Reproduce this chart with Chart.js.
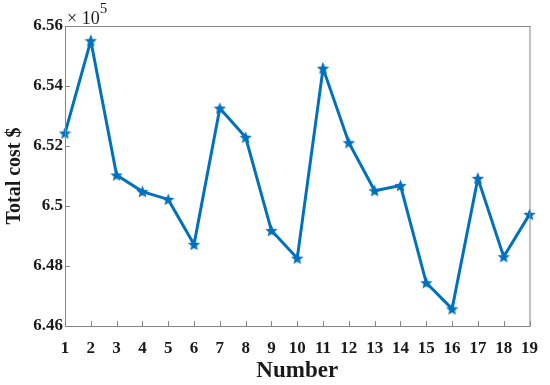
<!DOCTYPE html>
<html>
<head>
<meta charset="utf-8">
<script src="https://cdn.jsdelivr.net/npm/chart.js@4"></script>
<style>
  html, body { margin: 0; padding: 0; background: #fff; }
  #wrap { width: 550px; height: 385px; }
</style>
</head>
<body>
<div id="wrap"><canvas id="costChart" width="550" height="385"></canvas></div>
<script>
// run number on x, total cost on y (dollars)
const runs = [1, 2, 3, 4, 5, 6, 7, 8, 9, 10, 11, 12, 13, 14, 15, 16, 17, 18, 19];
const totalCost = [
  652430, 655510, 651030, 650480, 650220, 648720, 653260, 652290, 649180,
  648260, 654590, 652110, 650510, 650680, 647440, 646570, 650920, 648310, 649720,
];
const yTicks = [646000, 648000, 650000, 652000, 654000, 656000];

const lineBlue = "#0072BD";
const axisGray = "#858585";
const serif = "'Liberation Serif', 'Times New Roman', serif";

// filled five point star, like matlab's 'p' marker
function makeStar(size, color) {
  const c = document.createElement("canvas");
  c.width = size;
  c.height = size;
  const g = c.getContext("2d");
  const cx = size / 2, cy = size / 2 + 0.5;
  const outer = size / 2, inner = outer * 0.45;
  g.beginPath();
  for (let i = 0; i < 10; i++) {
    const r = i % 2 === 0 ? outer : inner;
    const a = -Math.PI / 2 + (i * Math.PI) / 5;
    const px = cx + r * Math.cos(a), py = cy + r * Math.sin(a);
    if (i === 0) g.moveTo(px, py);
    else g.lineTo(px, py);
  }
  g.closePath();
  g.fillStyle = color;
  g.fill();
  return c;
}
const starImg = makeStar(13, lineBlue);

// box round the axes, inward ticks and the x10^5 note
const matlabAxes = {
  id: "matlabAxes",
  afterDraw(chart) {
    const { ctx, chartArea: a, scales } = chart;
    ctx.save();
    ctx.strokeStyle = axisGray;
    ctx.lineWidth = 1;
    ctx.strokeRect(a.left + 0.5, a.top + 0.5, a.right - a.left, a.bottom - a.top);

    ctx.beginPath();
    scales.x.ticks.forEach((t, i) => {
      const px = Math.round(scales.x.getPixelForTick(i)) + 0.5;
      ctx.moveTo(px, a.bottom);
      ctx.lineTo(px, a.bottom - 5);
    });
    scales.y.ticks.forEach((t) => {
      const py = Math.round(scales.y.getPixelForValue(t.value)) + 0.5;
      ctx.moveTo(a.left, py);
      ctx.lineTo(a.left + 5, py);
    });
    ctx.stroke();

    ctx.fillStyle = "#1a1a1a";
    ctx.textBaseline = "alphabetic";
    ctx.font = "18px " + serif;
    ctx.fillText("\u00d7 10", a.left + 2, a.top - 2);
    const w = ctx.measureText("\u00d7 10").width;
    ctx.font = "15px " + serif;
    ctx.fillText("5", a.left + 2 + w, a.top - 13);
    ctx.restore();
  },
};

new Chart(document.getElementById("costChart").getContext("2d"), {
  type: "line",
  data: {
    labels: runs,
    datasets: [
      {
        data: totalCost,
        borderColor: lineBlue,
        backgroundColor: lineBlue,
        borderWidth: 3,
        tension: 0,
        pointStyle: starImg,
        pointRadius: 6,
      },
    ],
  },
  options: {
    responsive: false,
    animation: false,
    layout: { padding: { top: 26, right: 17, left: 0, bottom: 0 } },
    plugins: {
      legend: { display: false },
      tooltip: { enabled: false },
    },
    scales: {
      x: {
        type: "category",
        offset: false,
        grid: { display: false, drawTicks: false },
        border: { display: false },
        ticks: {
          color: "#1a1a1a",
          padding: 12,
          maxRotation: 0,
          autoSkip: false,
          font: { family: serif, size: 17, weight: "bold" },
        },
        title: {
          display: true,
          text: "Number",
          color: "#1a1a1a",
          padding: { top: 3, bottom: 0 },
          font: { family: serif, size: 23, weight: "bold" },
        },
        afterFit(scale) {
          scale.height = 59;
        },
      },
      y: {
        min: 646000,
        max: 656000,
        afterBuildTicks(scale) {
          scale.ticks = yTicks.map((v) => ({ value: v }));
        },
        grid: { display: false, drawTicks: false },
        border: { display: false },
        ticks: {
          color: "#1a1a1a",
          padding: 2,
          font: { family: serif, size: 17, weight: "bold" },
          callback: (v) => String(parseFloat((v / 1e5).toFixed(2))),
        },
        title: {
          display: true,
          text: "Total cost $",
          color: "#1a1a1a",
          padding: { top: 3, bottom: 0 },
          font: { family: serif, size: 20, weight: "bold" },
        },
        afterFit(scale) {
          scale.width = 65;
        },
      },
    },
  },
  plugins: [matlabAxes],
});
</script>
</body>
</html>
